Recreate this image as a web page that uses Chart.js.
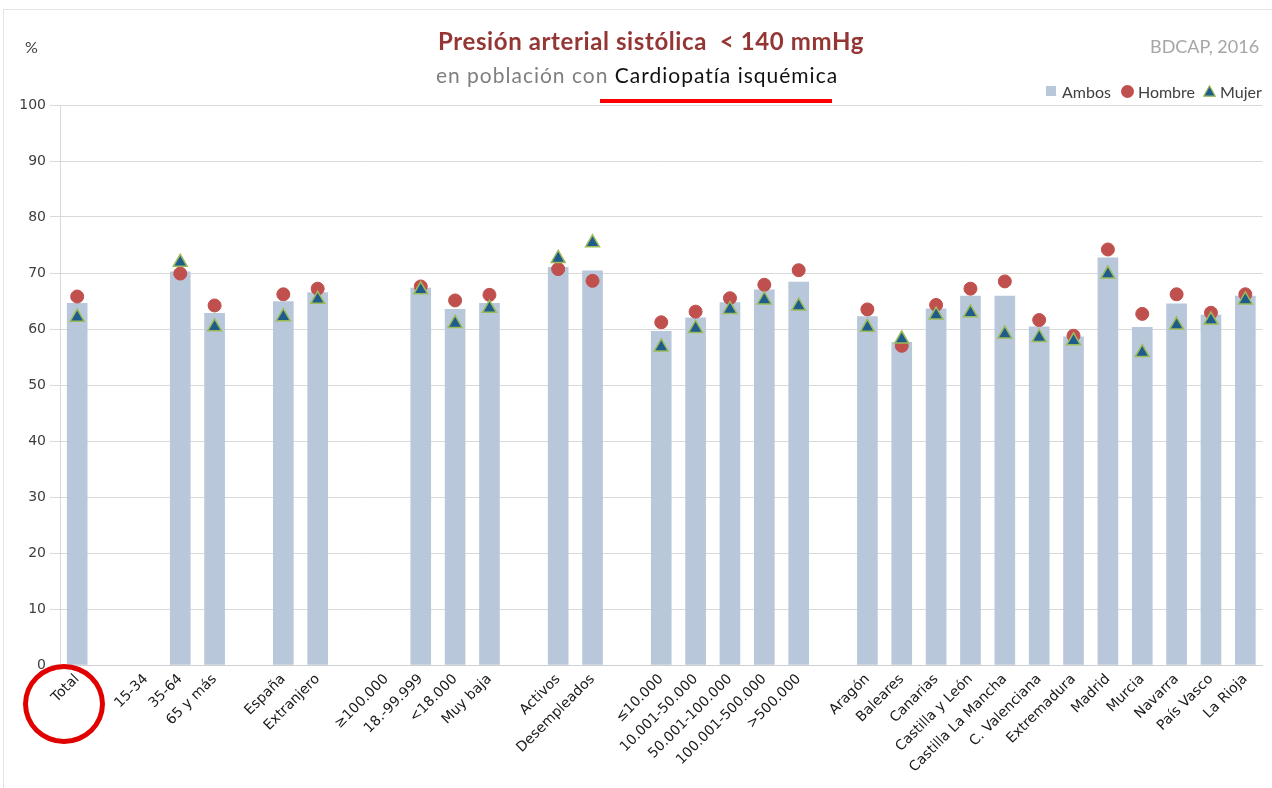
<!DOCTYPE html>
<html>
<head>
<meta charset="utf-8">
<script src="https://cdn.jsdelivr.net/npm/chart.js@4.4.1/dist/chart.umd.min.js"></script>
<style>
  body { margin:0; background:#fff; }
  #wrap { position:relative; width:1272px; height:788px; overflow:hidden; }
  #frame { position:absolute; left:3px; top:9px; width:1300px; height:800px; border:1px solid #e3e3e3; box-sizing:border-box; }
  #chart { position:absolute; left:0; top:0; }
  .txt { position:absolute; white-space:nowrap; font-family:Lato, "Open Sans", sans-serif; }
  #title { left:0; width:1272px; text-align:center; top:26px; font-size:24px; letter-spacing:0.6px; font-weight:bold; color:#943634; padding-left:30px; box-sizing:border-box; }
  #subtitle { left:0; width:1272px; text-align:center; top:62px; font-size:21px; letter-spacing:1px; color:#7f7f7f; padding-left:2px; box-sizing:border-box; }
  #subtitle span { color:#111; }
  #underline { position:absolute; left:600px; top:99px; width:232px; height:4px; background:#ff0000; }
  #pct { left:25px; top:37px; font-size:16px; color:#404040; }
  #source { left:1150px; top:35px; font-size:18px; color:#a6a6a6; }
  #circle { position:absolute; left:23px; top:664px; width:82px; height:80px; border:5px solid #e00000; border-radius:50%; box-sizing:border-box; }
  #legend { position:absolute; left:1046px; top:81px; height:20px; display:flex; align-items:center; font-family:Lato, sans-serif; font-size:16px; color:#404040; }
  #legend .sq { width:10px; height:10px; background:#b8c8da; margin-right:6px; }
  #legend .dot { width:13px; height:13px; border-radius:50%; background:#c0504d; margin:0 4px 0 10px; }
  #legend svg { margin:0 4px 0 8px; }
</style>
</head>
<body>
<div id="wrap">
  <div id="frame"></div>
  <canvas id="chart" width="1272" height="788"></canvas>
  <div class="txt" id="title">Presión arterial sistólica&nbsp; &lt; 140 mmHg</div>
  <div class="txt" id="subtitle">en población con <span>Cardiopatía isquémica</span></div>
  <div id="underline"></div>
  <div class="txt" id="pct">%</div>
  <div class="txt" id="source">BDCAP, 2016</div>
  <div id="legend">
    <div class="sq"></div><span>Ambos</span>
    <div class="dot"></div><span>Hombre</span>
    <svg width="13" height="12" viewBox="0 0 13 12"><polygon points="6.5,0.8 12.3,11.2 0.7,11.2" fill="#1f5c8c" stroke="#9bbb59" stroke-width="1.2"/></svg><span>Mujer</span>
  </div>
  <div id="circle"></div>
</div>
<script>
// categories (empty strings are the gaps between groups)
const categories = ['Total','','15-34','35-64','65 y más','','España','Extranjero','','≥100.000','18.-99.999','<18.000','Muy baja','',
  'Activos','Desempleados','','≤10.000','10.001-50.000','50.001-100.000','100.001-500.000','>500.000','',
  'Aragón','Baleares','Canarias','Castilla y León','Castilla La Mancha','C. Valenciana','Extremadura','Madrid','Murcia','Navarra','País Vasco','La Rioja'];

const ambos  = [64.6,null,null,70.2,62.8,null,64.9,66.5,null,null,67.3,63.5,64.6,null,
  71.0,70.4,null,59.6,62.0,64.7,67.0,68.4,null,
  62.2,57.6,63.6,65.9,65.9,60.4,58.6,72.7,60.3,64.5,62.5,65.9];
const hombre = [65.8,null,null,69.9,64.2,null,66.2,67.2,null,null,67.6,65.1,66.1,null,
  70.7,68.6,null,61.2,63.1,65.5,67.9,70.5,null,
  63.5,57.0,64.3,67.2,68.5,61.6,58.8,74.2,62.7,66.2,62.9,66.2];
const mujer  = [62.1,null,null,71.9,60.4,null,62.2,65.3,null,null,67.0,61.0,63.7,null,
  72.6,75.4,null,56.8,60.1,63.5,65.2,64.1,null,
  60.3,58.2,62.5,62.9,59.1,58.5,57.9,69.8,55.8,60.7,61.6,65.2];

const yTicks = [0,10,20,30,40,50,60,70,80,90,100];

function init(){
  const ctx = document.getElementById('chart').getContext('2d');
  new Chart(ctx, {
    data: {
      labels: categories,
      datasets: [
        { type:'bar', label:'Ambos', data: ambos, backgroundColor:'#b8c8da', barThickness:20, order:3 },
        { type:'scatter', label:'Hombre', data: hombre, backgroundColor:'#c0504d', borderColor:'#c0504d',
          pointRadius:6.5, pointStyle:'circle', order:2, showLine:false },
        { type:'scatter', label:'Mujer', data: mujer, backgroundColor:'#1f5c8c', borderColor:'#9bbb59', borderWidth:1.5,
          pointRadius:8, pointStyle:'triangle', order:1, showLine:false }
      ]
    },
    options: {
      responsive:false,
      animation:false,
      layout: { padding: { left:0, right:2, top:105, bottom:0 } },
      plugins: {
        tooltip: { enabled:false },
        legend: { display:false }
      },
      scales: {
        x: {
          type:'category', offset:true,
          grid: { display:false, drawTicks:false },
          border: { display:true, color:'#d0d0d0' },
          ticks: { autoSkip:false, minRotation:45, maxRotation:45, padding:6,
            font:{ family:'DejaVu Sans', size:14 }, color:'#1a1a1a' },
          afterFit: s => { s.height = 123; }
        },
        y: {
          min:0, max:100,
          afterBuildTicks: s => { s.ticks = yTicks.map(v => ({ value:v })); },
          grid: { color:'#d9d9d9', tickLength:10 },
          border: { display:true, color:'#d9d9d9' },
          ticks: { padding:4, font:{ family:'DejaVu Sans', size:14 }, color:'#404040' },
          afterFit: s => { s.width = 60; }
        }
      }
    }
  });
}

document.addEventListener('DOMContentLoaded', init);
</script>
</body>
</html>
